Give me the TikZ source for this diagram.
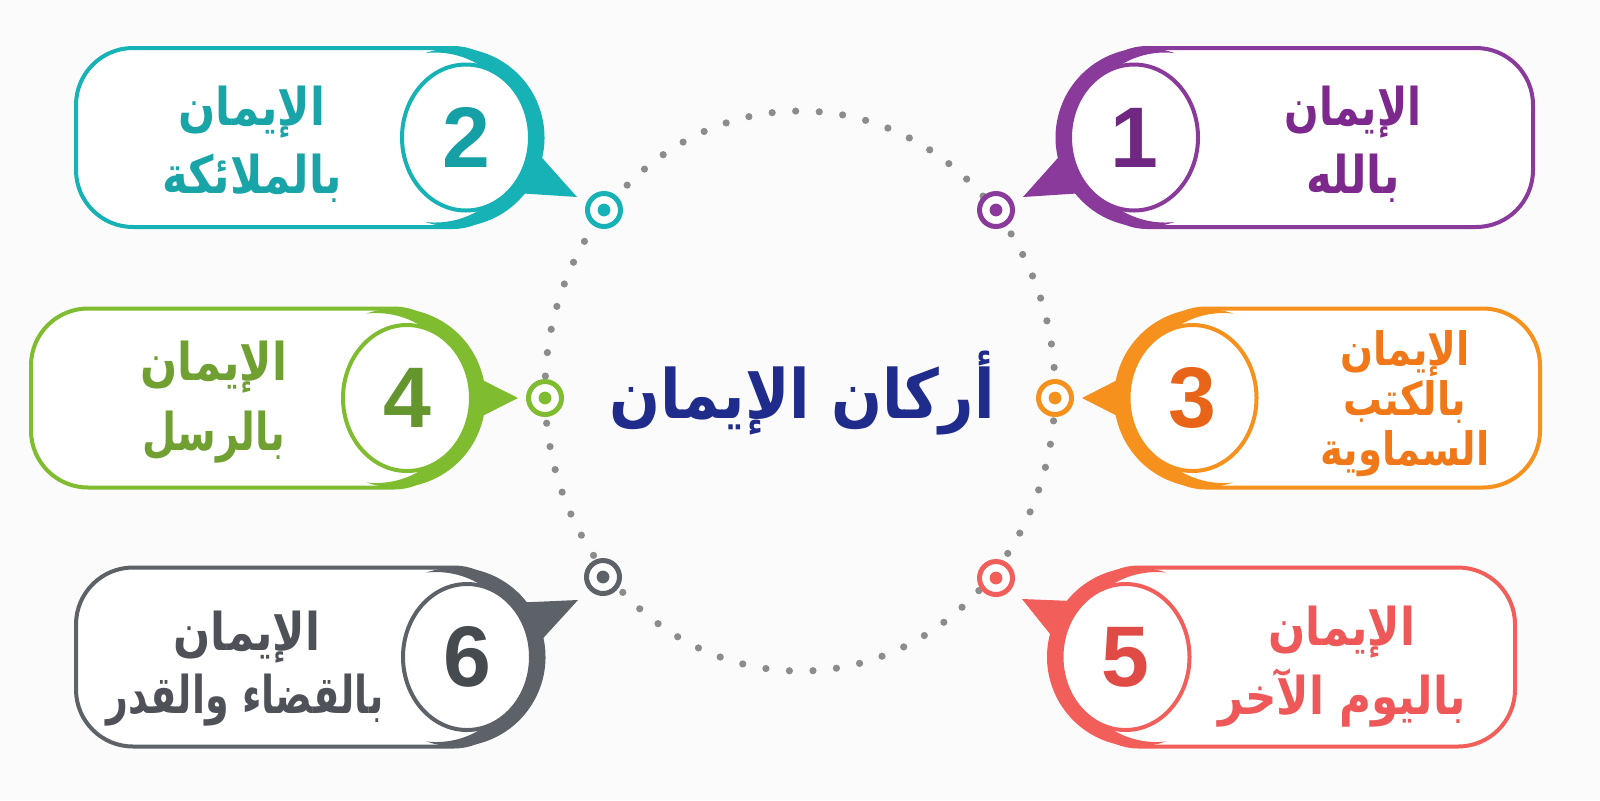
\documentclass[tikz,border=0pt]{standalone}
\usepackage{fontspec}
\usetikzlibrary{shapes.geometric,calc}
\TeXXeTstate=1
\newfontfamily\arabicfont[Script=Arabic, FakeStretch=0.84]{DejaVu Sans}
\newfontfamily\titlefont[Script=Arabic, FakeStretch=0.88]{DejaVu Sans}
\newfontfamily\numfont{Liberation Sans}
\definecolor{bgc}{RGB}{251,251,251}
\definecolor{dotc}{RGB}{140,140,140}
\definecolor{titc}{RGB}{32,44,140}
\definecolor{cPur}{RGB}{138,58,155}\definecolor{cPurT}{RGB}{125,40,140}\definecolor{cPurD}{RGB}{110,40,130}
\definecolor{cTea}{RGB}{22,178,182}\definecolor{cTeaT}{RGB}{25,165,168}\definecolor{cTeaD}{RGB}{20,160,165}
\definecolor{cOra}{RGB}{247,145,30}\definecolor{cOraT}{RGB}{240,120,25}\definecolor{cOraD}{RGB}{232,100,25}
\definecolor{cGre}{RGB}{128,188,48}\definecolor{cGreT}{RGB}{112,160,50}\definecolor{cGreD}{RGB}{100,150,45}
\definecolor{cRed}{RGB}{242,95,90}\definecolor{cRedT}{RGB}{238,88,88}\definecolor{cRedD}{RGB}{225,75,70}
\definecolor{cGry}{RGB}{92,98,104}\definecolor{cGryT}{RGB}{78,82,88}\definecolor{cGryD}{RGB}{70,75,80}
% crescent with the hole to the right (crescent on the left side)
\newcommand\crescentL[2]{\fill[#2] ($(#1)+(-70.7:89.5)$) arc [start angle=-70.7, end angle=-289.3, radius=89.5] arc [start angle=83.5, end angle=276.5, radius=85] -- cycle;}
% crescent with the hole to the left (crescent on the right side)
\newcommand\crescentR[2]{\fill[#2] ($(#1)+(250.7:89.5)$) arc [start angle=250.7, end angle=469.3, radius=89.5] arc [start angle=96.5, end angle=-96.5, radius=85] -- cycle;}
\begin{document}
\begin{tikzpicture}[x=0.5pt,y=-0.5pt,
  pill/.style={draw, line width=2pt, fill=white, rounded corners=28.5pt, minimum height=89.5pt, inner sep=0pt},
  numell/.style={ellipse, draw, line width=2pt, fill=white, minimum width=64pt, minimum height=73pt, inner sep=0pt, font=\numfont\bfseries\fontsize{43}{43}\selectfont},
  ringdot/.style={circle, draw, line width=2.5pt, fill=white, minimum size=16.5pt, inner sep=0pt},
  boxtext/.style={font=\arabicfont\bfseries\fontsize{26}{30}\selectfont, anchor=base, inner sep=0pt},
  boxtextsm/.style={font=\arabicfont\bfseries\fontsize{23}{28}\selectfont, anchor=base, inner sep=0pt},
  titletext/.style={font=\titlefont\bfseries\fontsize{34}{40}\selectfont, anchor=base, inner sep=0pt, text=titc}
]
\fill[bgc] (0,0) rectangle (1600,800);
\useasboundingbox (0,0) rectangle (1600,800);
% dotted ring
\draw[dotc, line width=3.6pt, line cap=round, dash pattern=on 0pt off 11.8pt] (800,391) ellipse [x radius=127.5pt, y radius=140pt];
% title
\node[titletext] (title) at (802,418) {\beginR أركان الإيمان\endR};

% ---------- Box 1 (purple) ----------
\node[pill, draw=cPur, minimum width=221.5pt] (p1) at (1311.5,137.5) {};
\coordinate (o1) at (1145,137.5);
\crescentL{o1}{cPur}
\node[ringdot, draw=cPur] (r1) at (996,210) {};
\fill[cPur] (r1) circle [radius=3.2pt];
\coordinate (t1) at (1023,197);
\fill[cPur] (t1) -- ($(o1)+(129:70)$) -- ($(o1)+(179:70)$) -- cycle;
\node[numell, draw=cPur, text=cPurD] (n1) at (1134,137.5) {1};
\node[boxtext, text=cPurT] (a1) at (1353,125) {\scalebox{0.93}[1]{\beginR الإيمان\endR}};
\node[boxtext, text=cPurT] (b1) at (1353,193) {\beginR بالله\endR};

% ---------- Box 2 (teal) ----------
\node[pill, draw=cTea, minimum width=217pt] (p2) at (293,137.5) {};
\coordinate (o2) at (455,137.5);
\crescentR{o2}{cTea}
\node[ringdot, draw=cTea] (r2) at (604,210) {};
\fill[cTea] (r2) circle [radius=3.2pt];
\coordinate (t2) at (577,197);
\fill[cTea] (t2) -- ($(o2)+(1:70)$) -- ($(o2)+(51:70)$) -- cycle;
\node[numell, draw=cTea, text=cTeaD] (n2) at (466,137.5) {2};
\node[boxtext, text=cTeaT] (a2) at (252,125) {\beginR الإيمان\endR};
\node[boxtext, text=cTeaT] (b2) at (252,193) {\beginR بالملائكة\endR};

% ---------- Box 3 (orange) ----------
\node[pill, draw=cOra, minimum width=195.75pt] (p3) at (1344.25,398) {};
\coordinate (o3) at (1203.5,398);
\crescentL{o3}{cOra}
\node[ringdot, draw=cOra] (r3) at (1055,398) {};
\fill[cOra] (r3) circle [radius=3.2pt];
\coordinate (t3) at (1082,398);
\fill[cOra] (t3) -- ($(o3)+(155:70)$) -- ($(o3)+(205:70)$) -- cycle;
\node[numell, draw=cOra, text=cOraD] (n3) at (1192.5,398) {3};
\node[boxtextsm, text=cOraT] (a3) at (1405,365) {\beginR الإيمان\endR};
\node[boxtextsm, text=cOraT] (b3) at (1405,415) {\beginR بالكتب\endR};
\node[boxtextsm, text=cOraT] (c3) at (1405,465) {\beginR السماوية\endR};

% ---------- Box 4 (green) ----------
\node[pill, draw=cGre, minimum width=210pt] (p4) at (241,398) {};
\coordinate (o4) at (396,398);
\crescentR{o4}{cGre}
\node[ringdot, draw=cGre] (r4) at (545,398) {};
\fill[cGre] (r4) circle [radius=3.2pt];
\coordinate (t4) at (518,398);
\fill[cGre] (t4) -- ($(o4)+(-25:70)$) -- ($(o4)+(25:70)$) -- cycle;
\node[numell, draw=cGre, text=cGreD] (n4) at (407,398) {4};
\node[boxtext, text=cGreT] (a4) at (214,380) {\beginR الإيمان\endR};
\node[boxtext, text=cGreT] (b4) at (214,450) {\scalebox{0.9}[1]{\beginR بالرسل\endR}};

% ---------- Box 5 (coral) ----------
\node[pill, draw=cRed, minimum width=216.75pt] (p5) at (1298.25,657) {};
\coordinate (o5) at (1136.5,657);
\crescentL{o5}{cRed}
\node[ringdot, draw=cRed] (r5) at (996,578) {};
\fill[cRed] (r5) circle [radius=3.2pt];
\coordinate (t5) at (1022,599);
\fill[cRed] (t5) -- ($(o5)+(182:70)$) -- ($(o5)+(232:70)$) -- cycle;
\node[numell, draw=cRed, text=cRedD] (n5) at (1125.5,657) {5};
\node[boxtext, text=cRedT] (a5) at (1342,645) {\beginR الإيمان\endR};
\node[boxtext, text=cRedT] (b5) at (1342,714) {\beginR باليوم الآخر\endR};

% ---------- Box 6 (gray) ----------
\node[pill, draw=cGry, minimum width=217.5pt] (p6) at (293.5,657) {};
\coordinate (o6) at (456,657);
\crescentR{o6}{cGry}
\node[ringdot, draw=cGry] (r6) at (603,577) {};
\fill[cGry] (r6) circle [radius=3.2pt];
\coordinate (t6) at (578,600);
\fill[cGry] (t6) -- ($(o6)+(310:70)$) -- ($(o6)+(360:70)$) -- cycle;
\node[numell, draw=cGry, text=cGryD] (n6) at (467,657) {6};
\node[boxtext, text=cGryT] (a6) at (247,650) {\beginR الإيمان\endR};
\node[boxtext, text=cGryT] (b6) at (245,713) {\scalebox{0.87}[1]{\beginR بالقضاء والقدر\endR}};
\end{tikzpicture}
\end{document}
